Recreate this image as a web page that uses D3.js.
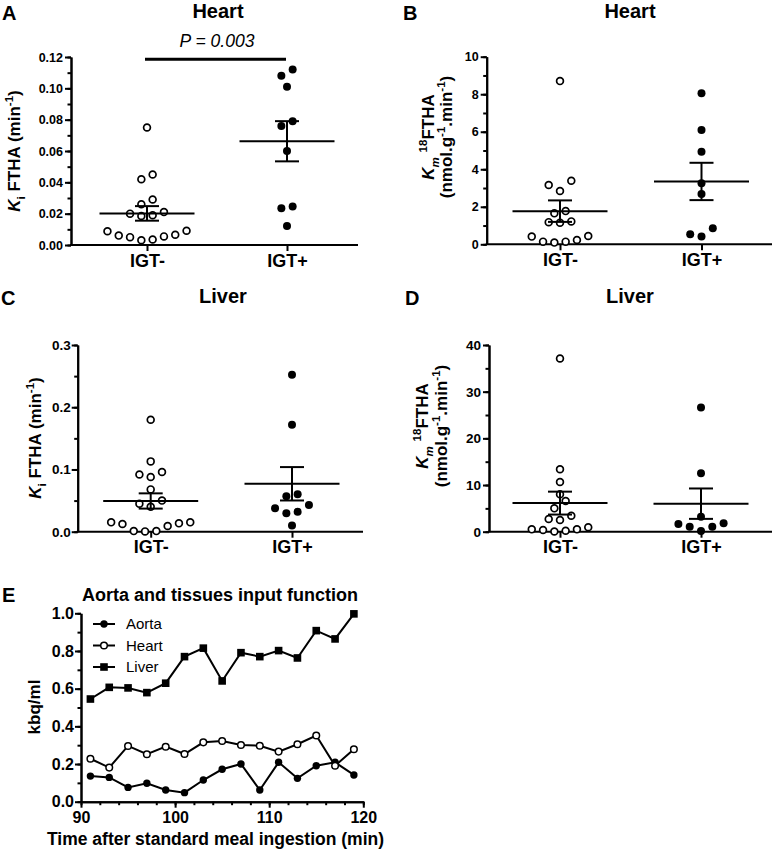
<!DOCTYPE html>
<html>
<head>
<meta charset="utf-8">
<script src="https://cdn.jsdelivr.net/npm/d3@7"></script>
<style>
  body { margin: 0; background: #fff; }
  svg { display: block; font-family: "Liberation Sans", Arial, sans-serif; }
  text { white-space: pre; }
</style>
</head>
<body>
<script>
const groups = ["IGT-", "IGT+"];

// A - heart Ki (min-1)
const heartKiNeg = [0.075, 0.045, 0.042, 0.029, 0.026, 0.021, 0.019, 0.0185, 0.020,
  0.0088, 0.006, 0.005, 0.003, 0.0035, 0.0055, 0.0065, 0.0091];
const heartKiPos = [0.112, 0.108, 0.101, 0.079, 0.076, 0.060, 0.0245, 0.0234, 0.0121];
const heartKiTicks = [0, 0.02, 0.04, 0.06, 0.08, 0.10, 0.12];

// B - heart Km
const heartKmNeg = [8.70, 3.16, 2.84, 3.39, 1.65, 1.77, 1.15, 1.18, 1.22, 0.41, 0.14, 0.09, 0.14, 0.23, 0.44];
const heartKmPos = [8.05, 6.09, 4.94, 3.25, 2.68, 0.85, 0.41, 0.53];
const heartKmTicks = [0, 2, 4, 6, 8, 10];

// C - liver Ki
const liverKiNeg = [0.180, 0.113, 0.092, 0.096, 0.088, 0.068, 0.045, 0.050, 0.040,
  0.015, 0.0123, 0.001, 0.0005, 0.001, 0.0091, 0.0134, 0.015];
const liverKiPos = [0.252, 0.172, 0.057, 0.060, 0.043, 0.032, 0.0295, 0.0375, 0.010];
const liverKiTicks = [0, 0.1, 0.2, 0.3];

// D - liver Km
const liverKmNeg = [37.1, 13.37, 10.65, 8.0, 6.58, 5.0, 3.43, 2.72, 2.5, 0.5, 0.36, 0.05, 0.2, 0.5, 0.94];
const liverKmPos = [26.6, 12.5, 3.2, 1.8, 1.07, 1.07, 1.65, 0.15];
const liverKmTicks = [0, 10, 20, 30, 40];

// E - input functions
const times = [91, 93, 95, 97, 99, 101, 103, 105, 107, 109, 111, 113, 115, 117, 119];
const aorta = [0.136, 0.129, 0.076, 0.098, 0.062, 0.048, 0.115, 0.172, 0.200, 0.062, 0.209, 0.124, 0.191, 0.209, 0.142];
const heartInput = [0.228, 0.181, 0.296, 0.252, 0.292, 0.253, 0.315, 0.322, 0.301, 0.297, 0.266, 0.305, 0.351, 0.191, 0.278];
const liverInput = [0.545, 0.607, 0.604, 0.579, 0.629, 0.770, 0.815, 0.641, 0.791, 0.770, 0.802, 0.763, 0.908, 0.864, 0.997];
const timeTicks = [90, 100, 110, 120];
const kbqTicks = [0, 0.2, 0.4, 0.6, 0.8, 1.0];
const seriesNames = ["Aorta", "Heart", "Liver"];

const FONT = '"Liberation Sans", Arial, sans-serif';
const svg = d3.select("body").append("svg").attr("width", 774).attr("height", 850);

// text with italic / sub / superscript parts
function richText(sel, parts, size) {
  let cur = 0;
  parts.forEach(p => {
    const shift = p.sub ? size * 0.3 : p.sup ? -size * 0.42 : 0;
    const t = sel.append("tspan").text(p.t).attr("dy", shift - cur);
    if (p.sub || p.sup) t.attr("font-size", size * 0.68);
    if (p.it) t.attr("font-style", "italic");
    cur = shift;
  });
}

function label(x, y, parts, size) {
  const t = svg.append("text")
    .attr("transform", `translate(${x},${y}) rotate(-90)`)
    .attr("text-anchor", "middle")
    .attr("font-size", size)
    .attr("font-weight", "bold");
  richText(t, parts, size);
}

function styleAxis(g, size) {
  g.attr("font-family", FONT).attr("font-size", size).attr("font-weight", "bold");
  g.selectAll("line, path").attr("stroke-width", 2).attr("stroke", "#000");
  g.selectAll("text").attr("fill", "#000");
}

function heading(p) {
  svg.append("text").attr("x", p.lx).attr("y", p.ly)
    .attr("font-size", 20).attr("font-weight", "bold").text(p.letter);
  svg.append("text").attr("x", p.tx).attr("y", p.ty)
    .attr("text-anchor", "middle").attr("font-size", p.tsize || 20).attr("font-weight", "bold").text(p.title);
}

// GraphPad-like column scatter: rows of close values spread centre-out
function swarm(values, cx, y) {
  const pts = values.map(v => ({ v, py: y(v) })).sort((a, b) => a.v - b.v);
  const rows = [];
  let row = null;
  pts.forEach(d => {
    if (!row || row[row.length - 1].py - d.py > 7.5 || row[0].py - d.py > 11) {
      row = [];
      rows.push(row);
    }
    row.push(d);
  });
  rows.forEach(r => {
    const n = r.length, slots = [];
    if (n % 2) {
      slots.push(0);
      for (let k = 1; slots.length < n; k++) { slots.push(-k); if (slots.length < n) slots.push(k); }
    } else {
      for (let k = 0.5; slots.length < n; k++) { slots.push(-k); slots.push(k); }
    }
    r.forEach((d, i) => d.px = cx + slots[i] * 11.3);
  });
  return pts;
}

function scatterPanel(p) {
  heading(p);
  const y = d3.scaleLinear().domain([0, p.max]).range([p.y0, p.y1]);
  const x = d3.scalePoint().domain(groups).range([p.c0, p.c1]);

  const minor = d3.range(0, p.max + p.minorStep / 2, p.minorStep);
  const gm = svg.append("g").attr("transform", `translate(${p.ax},0)`)
    .call(d3.axisLeft(y).tickValues(minor).tickSize(3.5).tickSizeOuter(0).tickFormat(""));
  styleAxis(gm, p.tickFont);
  const gy = svg.append("g").attr("transform", `translate(${p.ax},0)`)
    .call(d3.axisLeft(y).tickValues(p.ticks).tickSize(6).tickSizeOuter(0)
      .tickPadding(p.tickPad).tickFormat(d3.format(p.fmt)));
  styleAxis(gy, p.tickFont);

  const gx = svg.append("g").attr("transform", `translate(0,${p.y0})`)
    .call(d3.axisBottom(x).tickSize(6).tickSizeOuter(0).tickPadding(3));
  gx.select(".domain").remove();
  gx.append("line").attr("x1", p.ax - 1).attr("x2", p.xEnd);
  styleAxis(gx, 18);

  groups.forEach((grp, gi) => {
    const vals = p.values[gi];
    const cx = x(grp);
    svg.append("g").selectAll("circle")
      .data(swarm(vals, cx, y))
      .join("circle")
      .attr("cx", d => d.px)
      .attr("cy", d => d.py)
      .attr("r", gi ? 4 : 3.4)
      .attr("fill", gi ? "#000" : "#fff")
      .attr("stroke", "#000")
      .attr("stroke-width", gi ? 0 : 1.7);

    const m = d3.mean(vals);
    const sem = d3.deviation(vals) / Math.sqrt(vals.length);
    const eg = svg.append("g").attr("stroke", "#000").attr("stroke-width", 2);
    eg.append("line").attr("x1", cx - 47.5).attr("x2", cx + 47.5).attr("y1", y(m)).attr("y2", y(m));
    eg.append("line").attr("x1", cx).attr("x2", cx).attr("y1", y(m - sem)).attr("y2", y(m + sem));
    [m - sem, m + sem].forEach(v => eg.append("line")
      .attr("x1", cx - 12).attr("x2", cx + 12).attr("y1", y(v)).attr("y2", y(v)));
  });

  p.labels.forEach(l => label(l.x, l.y, l.parts, 17));
  return { x, y };
}

const kiLabel = [{ t: "K", it: 1 }, { t: "i", sub: 1 }, { t: " FTHA (min" }, { t: "-1", sup: 1 }, { t: ")" }];
const kmLine1 = [{ t: "K", it: 1 }, { t: "m", it: 1, sub: 1 }, { t: " " }, { t: "18", sup: 1 }, { t: "FTHA" }];
const kmLine2 = [{ t: "(nmol.g" }, { t: "-1", sup: 1 }, { t: ".min" }, { t: "-1", sup: 1 }, { t: ")" }];

const A = scatterPanel({
  letter: "A", lx: 2, ly: 20, title: "Heart", tx: 218, ty: 18,
  ax: 71, xEnd: 358, y0: 245, y1: 57, c0: 147, c1: 287,
  max: 0.12, ticks: heartKiTicks, minorStep: 0.01, fmt: ".2f", tickFont: 12.5, tickPad: 2,
  values: [heartKiNeg, heartKiPos],
  labels: [{ x: 20, y: 151, parts: kiLabel }]
});
scatterPanel({
  letter: "B", lx: 403, ly: 20, title: "Heart", tx: 630, ty: 18,
  ax: 486.7, xEnd: 772, y0: 244.3, y1: 56.7, c0: 560, c1: 701.5,
  max: 10, ticks: heartKmTicks, minorStep: 1, fmt: "d", tickFont: 12.5, tickPad: 2,
  values: [heartKmNeg, heartKmPos],
  labels: [{ x: 434, y: 137, parts: kmLine1 }, { x: 452, y: 137, parts: kmLine2 }]
});
scatterPanel({
  letter: "C", lx: 1, ly: 305, title: "Liver", tx: 223, ty: 303,
  ax: 77.7, xEnd: 363, y0: 531.7, y1: 345, c0: 150.7, c1: 292,
  max: 0.3, ticks: liverKiTicks, minorStep: 0.05, fmt: ".1f", tickFont: 13.5, tickPad: 1,
  values: [liverKiNeg, liverKiPos],
  labels: [{ x: 41, y: 438, parts: kiLabel }]
});
scatterPanel({
  letter: "D", lx: 405, ly: 305, title: "Liver", tx: 630, ty: 303,
  ax: 489, xEnd: 772, y0: 531.7, y1: 345, c0: 560, c1: 701,
  max: 40, ticks: liverKmTicks, minorStep: 5, fmt: "d", tickFont: 13.5, tickPad: 2,
  values: [liverKmNeg, liverKmPos],
  labels: [{ x: 428, y: 426, parts: kmLine1 }, { x: 447, y: 426, parts: kmLine2 }]
});

// significance bar in A
svg.append("line").attr("x1", A.x("IGT-") - 2).attr("x2", A.x("IGT+") - 1)
  .attr("y1", A.y(0.1185)).attr("y2", A.y(0.1185))
  .attr("stroke", "#000").attr("stroke-width", 3);
svg.append("text").attr("x", 217).attr("y", 47).attr("text-anchor", "middle")
  .attr("font-size", 17.5).attr("font-style", "italic").text("P = 0.003");

// E
heading({ letter: "E", lx: 2, ly: 602, title: "Aorta and tissues input function", tx: 220, ty: 601, tsize: 18 });
const ex = d3.scaleLinear().domain([90, 120]).range([81, 363.3]);
const ey = d3.scaleLinear().domain([0, 1]).range([801.7, 613.3]);

const eym = svg.append("g").attr("transform", "translate(81,0)")
  .call(d3.axisLeft(ey).tickValues(d3.range(0, 1.05, 0.1)).tickSize(3.5).tickSizeOuter(0).tickFormat(""));
styleAxis(eym, 16);
const eyg = svg.append("g").attr("transform", "translate(81,0)")
  .call(d3.axisLeft(ey).tickValues(kbqTicks).tickSize(6).tickSizeOuter(0).tickPadding(1).tickFormat(d3.format(".1f")));
styleAxis(eyg, 16);
const exm = svg.append("g").attr("transform", "translate(0,801.7)")
  .call(d3.axisBottom(ex).tickValues(d3.range(90, 121, 2)).tickSize(3.5).tickSizeOuter(0).tickFormat(""));
styleAxis(exm, 16);
const exg = svg.append("g").attr("transform", "translate(0,801.7)")
  .call(d3.axisBottom(ex).tickValues(timeTicks).tickSize(6).tickSizeOuter(0).tickPadding(4).tickFormat(d3.format("d")));
styleAxis(exg, 16);

const series = [
  { name: seriesNames[0], values: aorta, shape: "dot" },
  { name: seriesNames[1], values: heartInput, shape: "open" },
  { name: seriesNames[2], values: liverInput, shape: "square" }
];
const line = d3.line().x((d, i) => ex(times[i])).y(d => ey(d));

function marker(g, shape, cx, cy) {
  if (shape === "square") {
    g.append("rect").attr("x", cx - 3.8).attr("y", cy - 3.8).attr("width", 7.6).attr("height", 7.6).attr("fill", "#000");
  } else {
    g.append("circle").attr("cx", cx).attr("cy", cy).attr("r", shape === "dot" ? 3.7 : 3.3)
      .attr("fill", shape === "dot" ? "#000" : "#fff")
      .attr("stroke", "#000").attr("stroke-width", shape === "dot" ? 0 : 1.5);
  }
}

series.forEach(s => {
  svg.append("path").datum(s.values).attr("d", line)
    .attr("fill", "none").attr("stroke", "#000").attr("stroke-width", 2);
});
series.forEach(s => {
  const g = svg.append("g");
  s.values.forEach((v, i) => marker(g, s.shape, ex(times[i]), ey(v)));
});

// legend
series.forEach((s, i) => {
  const ly = 624 + i * 21.5;
  const g = svg.append("g");
  g.append("line").attr("x1", 93).attr("x2", 115).attr("y1", ly).attr("y2", ly)
    .attr("stroke", "#000").attr("stroke-width", 2);
  marker(g, s.shape, 104, ly);
  g.append("text").attr("x", 126).attr("y", ly).attr("dy", "0.36em")
    .attr("font-size", 15).text(s.name);
});

label(40, 707, [{ t: "kbq/ml" }], 17);
svg.append("text").attr("x", 215.5).attr("y", 845).attr("text-anchor", "middle")
  .attr("font-size", 17.5).attr("font-weight", "bold").text("Time after standard meal ingestion (min)");
</script>
</body>
</html>
